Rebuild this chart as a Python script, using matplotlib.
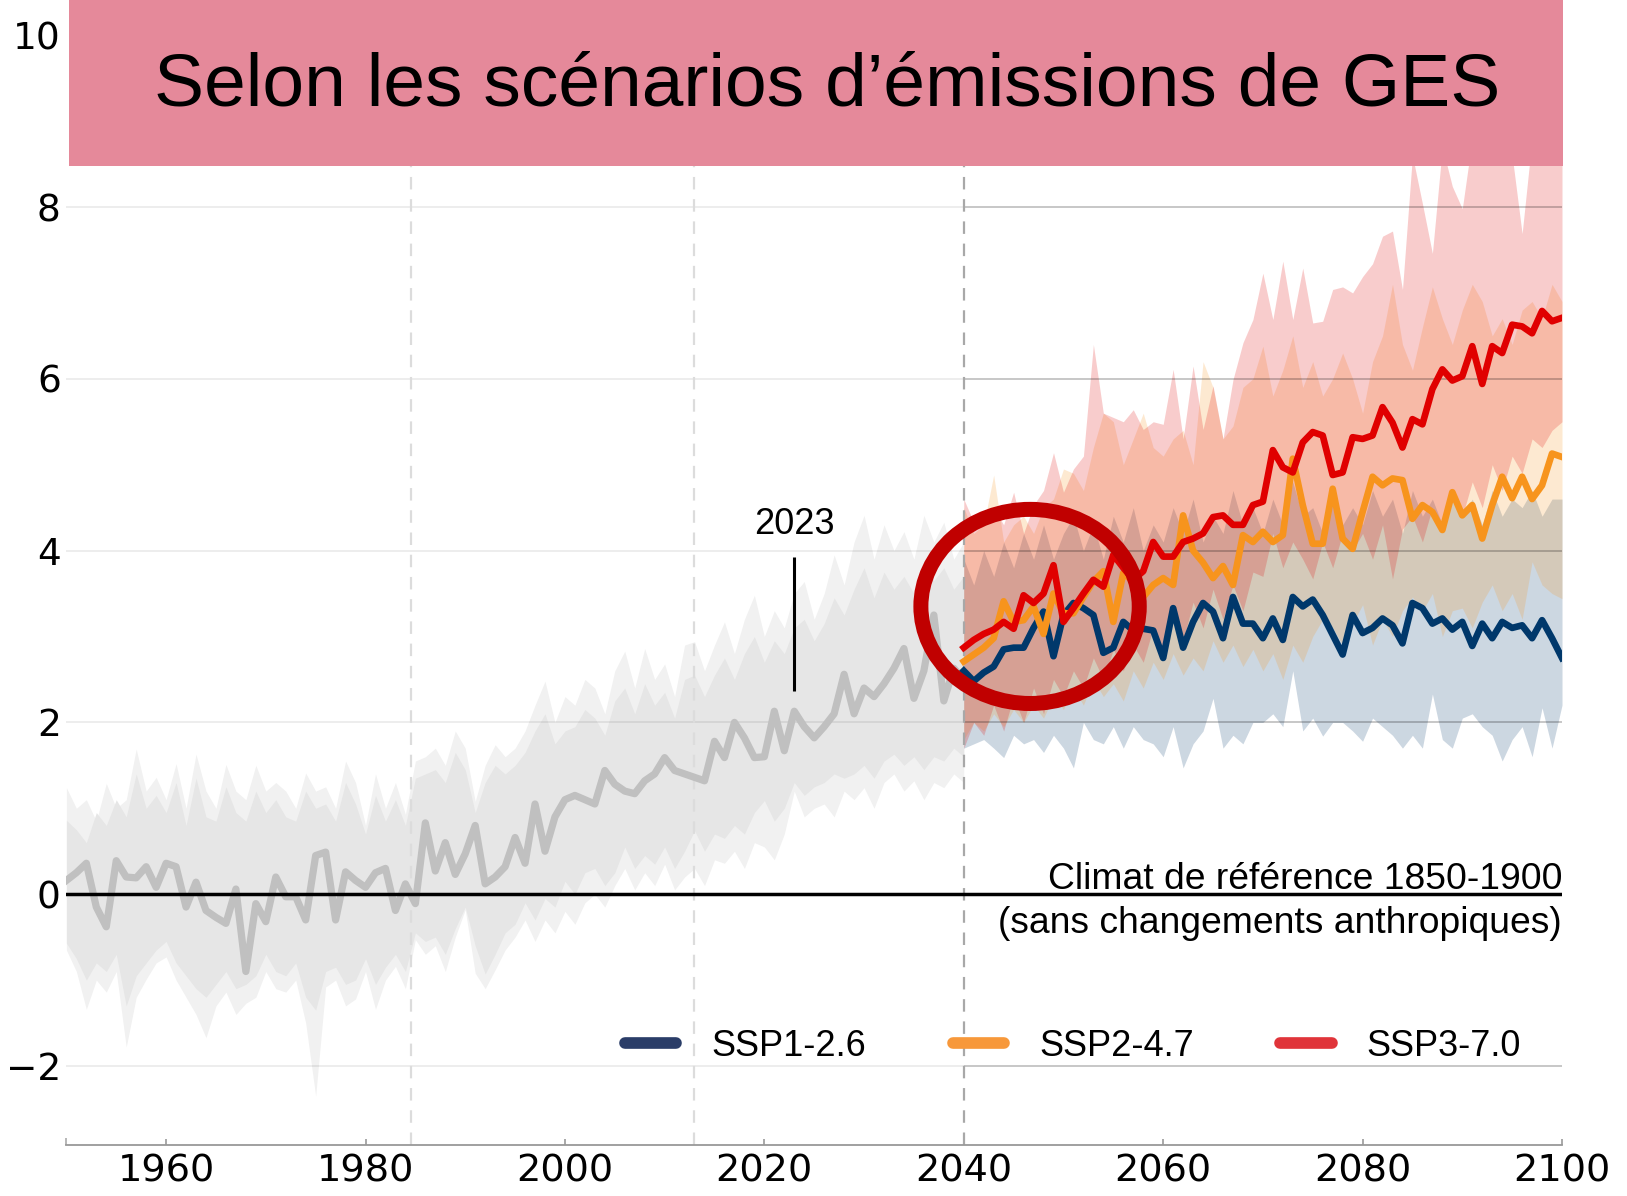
import matplotlib
matplotlib.use('Agg')
import matplotlib.pyplot as plt
from matplotlib.patches import Ellipse, Rectangle
from matplotlib.lines import Line2D

plt.rcParams['lines.scale_dashes'] = False

# ---------------- data ----------------
hist_years = list(range(1950, 2041))
hist_mean = [0.16, 0.25, 0.36, -0.15, -0.38, 0.39, 0.20, 0.19, 0.32, 0.08,
             0.36, 0.32, -0.15, 0.14, -0.19, -0.27, -0.34, 0.06, -0.90, -0.11,
             -0.32, 0.20, -0.03, -0.03, -0.30, 0.45, 0.49, -0.30, 0.26, 0.16,
             0.08, 0.25, 0.30, -0.19, 0.12, -0.11, 0.83, 0.27, 0.60, 0.23,
             0.47, 0.80, 0.12, 0.20, 0.32, 0.66, 0.36, 1.05, 0.50, 0.90,
             1.10, 1.15, 1.10, 1.05, 1.44, 1.28, 1.20, 1.17, 1.32, 1.40,
             1.59, 1.44, 1.40, 1.36, 1.32, 1.78, 1.59, 2.00, 1.82, 1.59,
             1.60, 2.13, 1.67, 2.13, 1.95, 1.82, 1.95, 2.10, 2.56, 2.10,
             2.40, 2.30, 2.45, 2.63, 2.86, 2.28, 2.60, 3.25, 2.25, 2.63,
             2.50]
hist_out_hi = [1.24, 1.00, 1.10, 0.85, 1.29, 1.00, 1.10, 1.69, 1.20, 1.36,
               1.10, 1.52, 1.00, 1.63, 1.20, 1.00, 1.51, 1.20, 1.10, 1.50,
               1.20, 1.30, 1.20, 1.00, 1.41, 1.20, 1.25, 1.00, 1.55, 1.30,
               0.80, 1.40, 1.00, 1.30, 0.93, 1.55, 1.60, 1.70, 1.50, 1.90,
               1.70, 1.08, 1.50, 1.74, 1.60, 1.70, 1.90, 2.20, 2.48, 2.00,
               2.30, 2.20, 2.50, 2.40, 2.10, 2.60, 2.83, 2.40, 2.86, 2.50,
               2.68, 2.30, 2.90, 2.94, 2.60, 2.90, 3.17, 2.80, 3.20, 3.48,
               3.00, 3.30, 3.10, 3.50, 3.64, 3.20, 3.50, 3.95, 3.60, 4.10,
               4.41, 3.90, 4.30, 4.00, 4.22, 3.90, 4.41, 4.10, 4.33, 3.90,
               4.10]
hist_out_lo = [-0.65, -0.90, -1.34, -1.00, -1.14, -0.90, -1.78, -1.20, -0.99, -0.80,
               -0.73, -1.00, -1.20, -1.40, -1.67, -1.30, -1.14, -1.40, -1.27, -1.20,
               -0.90, -1.10, -1.14, -1.00, -1.50, -2.35, -1.08, -1.00, -1.30, -1.22,
               -0.90, -1.34, -1.00, -0.84, -1.10, -0.53, -0.70, -0.60, -0.90, -0.50,
               -0.18, -0.92, -1.10, -0.88, -0.65, -0.50, -0.30, -0.55, -0.30, -0.45,
               -0.20, -0.35, -0.10, 0.00, -0.15, 0.10, 0.30, 0.05, 0.25, 0.10,
               0.35, 0.05, 0.20, 0.30, 0.10, 0.40, 0.36, 0.50, 0.30, 0.60,
               0.55, 0.40, 0.70, 1.20, 0.90, 1.00, 1.05, 0.90, 1.20, 1.10,
               1.24, 1.00, 1.30, 1.40, 1.20, 1.32, 1.10, 1.30, 1.24, 1.40,
               1.30]
hist_in_hi = [0.86, 0.75, 0.60, 0.95, 0.80, 1.10, 0.90, 1.40, 1.00, 1.15,
              0.95, 1.30, 0.80, 1.35, 0.90, 0.85, 1.25, 0.95, 0.85, 1.20,
              0.95, 1.10, 0.90, 0.85, 1.20, 1.00, 1.05, 0.85, 1.30, 1.05,
              0.70, 1.15, 0.85, 1.10, 0.80, 1.35, 1.40, 1.45, 1.30, 1.65,
              1.45, 0.95, 1.30, 1.50, 1.40, 1.50, 1.65, 1.90, 2.10, 1.75,
              1.90, 1.95, 2.15, 2.05, 1.85, 2.25, 2.40, 2.10, 2.45, 2.20,
              2.35, 2.05, 2.50, 2.55, 2.30, 2.55, 2.75, 2.50, 2.80, 3.00,
              2.70, 2.95, 2.80, 3.10, 3.20, 2.95, 3.15, 3.45, 3.25, 3.55,
              3.80, 3.45, 3.75, 3.55, 3.70, 3.50, 3.85, 3.65, 3.80, 3.55,
              3.70]
hist_in_lo = [-0.57, -0.75, -1.00, -0.80, -0.90, -0.70, -1.30, -0.95, -0.80, -0.65,
              -0.55, -0.80, -0.95, -1.10, -1.20, -1.05, -0.90, -1.10, -1.05, -0.95,
              -0.70, -0.90, -0.95, -0.80, -1.20, -1.35, -0.90, -0.85, -1.05, -1.00,
              -0.75, -1.05, -0.85, -0.70, -0.90, -0.45, -0.55, -0.50, -0.70, -0.40,
              -0.15, -0.60, -0.93, -0.70, -0.45, -0.35, -0.10, -0.30, -0.05, -0.15,
              0.15, 0.00, 0.25, 0.30, 0.10, 0.25, 0.55, 0.30, 0.45, 0.35,
              0.55, 0.30, 0.50, 0.74, 0.50, 0.70, 0.65, 0.80, 0.70, 0.95,
              1.09, 0.85, 1.00, 1.30, 1.15, 1.25, 1.30, 1.40, 1.35, 1.40,
              1.50, 1.35, 1.55, 1.63, 1.50, 1.60, 1.45, 1.60, 1.55, 1.70,
              1.60]

proj_years = list(range(2040, 2101))
ssp1 = [2.60, 2.48, 2.58, 2.65, 2.85, 2.87, 2.87, 3.10, 3.29, 2.77,
        3.25, 3.39, 3.33, 3.25, 2.81, 2.87, 3.17, 3.07, 3.09, 3.07,
        2.75, 3.33, 2.87, 3.17, 3.39, 3.29, 2.98, 3.46, 3.15, 3.15,
        2.98, 3.21, 2.96, 3.46, 3.35, 3.43, 3.25, 3.02, 2.79, 3.25,
        3.04, 3.10, 3.21, 3.13, 2.92, 3.39, 3.33, 3.15, 3.21, 3.08,
        3.17, 2.89, 3.15, 2.98, 3.17, 3.10, 3.13, 2.98, 3.19, 2.98,
        2.75]
ssp2 = [2.71, 2.79, 2.87, 2.98, 3.41, 3.17, 3.19, 3.35, 3.03, 3.50,
        3.27, 3.27, 3.46, 3.64, 3.76, 3.17, 3.74, 3.64, 3.46, 3.60,
        3.68, 3.60, 4.41, 4.00, 3.86, 3.68, 3.82, 3.60, 4.18, 4.10,
        4.22, 4.10, 4.18, 5.07, 4.53, 4.08, 4.08, 4.72, 4.14, 4.02,
        4.45, 4.86, 4.76, 4.84, 4.82, 4.37, 4.53, 4.45, 4.24, 4.68,
        4.41, 4.53, 4.14, 4.53, 4.86, 4.61, 4.86, 4.60, 4.76, 5.13,
        5.09]
ssp3 = [2.87, 2.96, 3.03, 3.08, 3.17, 3.09, 3.48, 3.39, 3.50, 3.83,
        3.17, 3.33, 3.50, 3.66, 3.58, 3.95, 3.80, 3.66, 3.76, 4.10,
        3.93, 3.93, 4.10, 4.14, 4.20, 4.39, 4.41, 4.30, 4.30, 4.53,
        4.57, 5.17, 4.97, 4.91, 5.26, 5.38, 5.34, 4.88, 4.91, 5.32,
        5.30, 5.34, 5.67, 5.49, 5.20, 5.53, 5.47, 5.88, 6.11, 5.98,
        6.03, 6.38, 5.94, 6.38, 6.30, 6.63, 6.61, 6.53, 6.79, 6.67,
        6.71]
ssp1_lo = [1.70, 1.75, 1.80, 1.70, 1.59, 1.85, 1.75, 1.80, 1.65, 1.85,
           1.70, 1.47, 2.00, 1.80, 1.75, 1.95, 1.70, 1.95, 1.80, 1.75,
           1.60, 1.95, 1.47, 1.75, 1.90, 2.28, 1.70, 1.85, 1.75, 2.00,
           2.00, 2.10, 1.95, 2.60, 1.90, 2.05, 1.84, 2.00, 2.00, 1.90,
           1.78, 2.05, 1.95, 1.85, 1.70, 1.85, 1.70, 2.33, 1.80, 1.70,
           2.05, 2.10, 1.95, 1.85, 1.55, 1.80, 1.95, 1.60, 2.17, 1.70,
           2.20]
ssp1_hi = [3.90, 3.60, 4.00, 3.70, 4.10, 3.80, 4.20, 3.90, 4.30, 3.90,
           4.20, 4.40, 4.00, 4.30, 3.90, 4.40, 4.10, 4.50, 4.00, 4.30,
           4.10, 4.50, 4.20, 4.60, 4.10, 4.40, 4.20, 4.70, 4.30, 4.50,
           4.20, 4.60, 4.30, 4.80, 4.40, 4.50, 4.20, 4.60, 4.30, 4.50,
           4.30, 4.70, 4.40, 4.60, 4.20, 4.70, 4.40, 4.60, 4.30, 4.70,
           4.40, 4.60, 4.30, 4.70, 4.40, 4.60, 4.50, 4.70, 4.40, 4.60,
           4.60]
ssp2_lo = [1.80, 2.00, 1.90, 2.10, 1.95, 2.15, 2.00, 2.20, 2.05, 2.30,
           2.15, 2.40, 2.20, 2.50, 2.30, 2.45, 2.25, 2.60, 2.40, 2.70,
           2.50, 2.80, 2.55, 2.75, 2.60, 2.95, 2.70, 2.90, 2.65, 2.85,
           2.60, 2.80, 2.50, 2.90, 2.70, 3.00, 3.20, 3.10, 2.90, 3.15,
           3.37, 2.90, 3.20, 3.00, 3.30, 3.46, 3.30, 3.50, 3.00, 3.30,
           3.33, 3.10, 3.40, 3.60, 3.30, 3.50, 3.20, 3.87, 3.60, 3.50,
           3.44]
ssp2_hi = [4.50, 4.20, 4.30, 4.88, 4.10, 4.30, 4.40, 4.20, 4.50, 4.60,
           4.95, 4.90, 4.70, 5.20, 5.60, 5.50, 5.00, 5.30, 5.60, 5.20,
           5.10, 5.30, 5.40, 5.00, 6.20, 5.90, 5.30, 5.45, 5.90, 6.00,
           6.38, 5.80, 6.10, 6.50, 5.90, 6.20, 5.80, 6.00, 6.30, 6.00,
           5.60, 6.20, 6.50, 7.10, 6.40, 6.10, 6.60, 7.07, 6.70, 6.40,
           6.80, 7.10, 6.90, 6.50, 6.70, 6.40, 6.80, 6.90, 6.70, 7.10,
           6.90]
ssp3_lo = [1.70, 2.00, 1.85, 2.20, 1.90, 2.30, 2.00, 2.40, 2.10, 2.50,
           2.30, 2.60, 2.40, 2.75, 2.50, 2.85, 2.60, 2.90, 2.70, 3.10,
           2.85, 3.20, 2.95, 3.40, 3.10, 3.55, 3.20, 3.60, 3.30, 3.75,
           3.70, 4.20, 3.80, 4.10, 3.90, 3.67, 4.10, 3.80, 4.20, 4.00,
           4.20, 3.90, 4.30, 3.67, 4.25, 4.40, 4.10, 4.50, 4.30, 4.70,
           4.40, 4.80, 4.50, 5.00, 4.70, 5.10, 4.90, 5.30, 5.20, 5.40,
           5.50]
ssp3_hi = [4.60, 4.33, 4.40, 4.50, 4.30, 4.68, 4.20, 4.53, 4.70, 5.14,
           4.68, 4.95, 5.10, 6.40, 5.60, 5.55, 5.50, 5.64, 5.41, 5.50,
           5.47, 6.11, 5.30, 6.15, 5.41, 5.92, 5.30, 5.99, 6.42, 6.69,
           7.23, 6.69, 7.37, 6.69, 7.29, 6.65, 6.67, 7.04, 7.07, 7.00,
           7.19, 7.34, 7.66, 7.72, 7.04, 8.60, 8.04, 7.46, 8.70, 8.24,
           7.98, 8.80, 9.00, 8.80, 9.00, 8.60, 7.69, 8.80, 9.00, 9.00,
           9.00]

series_labels = ['SSP1-2.6', 'SSP2-4.7', 'SSP3-7.0']
line_colors = ['#00386B', '#F7941D', '#E00000']
legend_colors = ['#2A3D68', '#F7983A', '#E0343A']
x_ticks = [1960, 1980, 2000, 2020, 2040, 2060, 2080, 2100]
y_ticks = [-2, 0, 2, 4, 6, 8, 10]
grid_vals = [-2, 2, 4, 6, 8]
seam_years = [1984.6, 2012.9]
title = 'Selon les scénarios d\u2019émissions de GES'

# ---------------- figure ----------------
W, H = 1627, 1196
fig = plt.figure(figsize=(W / 100, H / 100), dpi=100)
ax = fig.add_axes([66.4 / W, 51 / H, 1495.6 / W, 1145 / H])
ax.set_xlim(1950, 2100)
ax.set_ylim(-2.92, 10.41)

# historical envelopes
ax.fill_between(hist_years, hist_out_lo, hist_out_hi, color='#f1f1f1', lw=0, zorder=1)
ax.fill_between(hist_years, hist_in_lo, hist_in_hi, color='#e6e6e6', lw=0, zorder=1.1)

# projection envelopes
bands = [(ssp1_lo, ssp1_hi), (ssp2_lo, ssp2_hi), (ssp3_lo, ssp3_hi)]
for (lo, hi), col in zip(bands, line_colors):
    ax.fill_between(proj_years, lo, hi, color=col, alpha=0.2, lw=0, zorder=1.2)

# grid lines
ax.hlines(grid_vals, hist_years[0], proj_years[0], colors='black', alpha=0.08, lw=1.3, zorder=2)
ax.hlines(grid_vals, proj_years[0], proj_years[-1], colors='black', alpha=0.28, lw=1.1, zorder=2)

# dashed vertical seams
for xv in seam_years:
    ax.axvline(xv, color='#dcdcdc', lw=1.6, dashes=(9, 7), zorder=2)
ax.axvline(proj_years[0], color='#a8a8a8', lw=1.6, dashes=(9, 7), zorder=2)

# historical line
ax.plot(hist_years, hist_mean, color='#c0c0c0', lw=5.2, zorder=3, solid_joinstyle='round')

# zero reference line
ax.axhline(0, color='black', lw=2.5, zorder=4)

# projection lines
for vals, col in zip([ssp1, ssp2, ssp3], line_colors):
    ax.plot(proj_years, vals, color=col, lw=4.8, zorder=5, solid_joinstyle='round')

# highlight ellipse
ax.add_patch(Ellipse((2046.65, 3.35), 21.9, 2.26, fill=False, edgecolor='#C00000', lw=10.8, zorder=8))

# 2023 marker
ax.vlines(2023, 2.37, 3.92, color='black', lw=2.2, zorder=6)
ax.text(2023, 4.19, '2023', ha='center', va='baseline', fontsize=26, family='Liberation Sans', zorder=6)

# reference climate text
ax.text(2100, 0.06, 'Climat de référence 1850-1900', ha='right', va='baseline',
        fontsize=26.8, family='Liberation Sans', zorder=6)
ax.text(2100, -0.45, '(sans changements anthropiques)', ha='right', va='baseline',
        fontsize=26.8, family='Liberation Sans', zorder=6)

# legend
handles = [Line2D([], [], color=c, lw=8.4, solid_capstyle='round') for c in legend_colors]
ax.legend(handles, series_labels, loc='center left', bbox_to_anchor=(0.3735, 0.0863),
          ncol=3, frameon=False, prop={'family': 'Liberation Sans', 'size': 26},
          handlelength=1.42, handletextpad=0.97, columnspacing=2.4,
          borderpad=0, borderaxespad=0)

# axes styling
ax.set_xticks(x_ticks)
ax.set_xticks([1950] + seam_years, minor=True)
ax.set_yticks(y_ticks)
ax.tick_params(axis='x', which='major', direction='in', length=4, width=1.2,
               color='#999999', labelsize=27.5, pad=6)
ax.tick_params(axis='x', which='minor', direction='in', length=5, width=1.2, color='#aaaaaa')
ax.tick_params(axis='y', length=0, labelsize=27, pad=4)
for s in ['left', 'top', 'right']:
    ax.spines[s].set_visible(False)
ax.spines['bottom'].set_color('#999999')
ax.spines['bottom'].set_linewidth(1.3)

# title banner
fig.add_artist(Rectangle((69 / W, 1 - 166 / H), (1563 - 69) / W, 166 / H,
                         transform=fig.transFigure, facecolor='#E5899A', edgecolor='none', zorder=10))
fig.text(827 / W, 1 - 86 / H, title, ha='center', va='center', fontsize=54,
         family='Liberation Sans', zorder=11)

fig.savefig('out.png', dpi=100)
